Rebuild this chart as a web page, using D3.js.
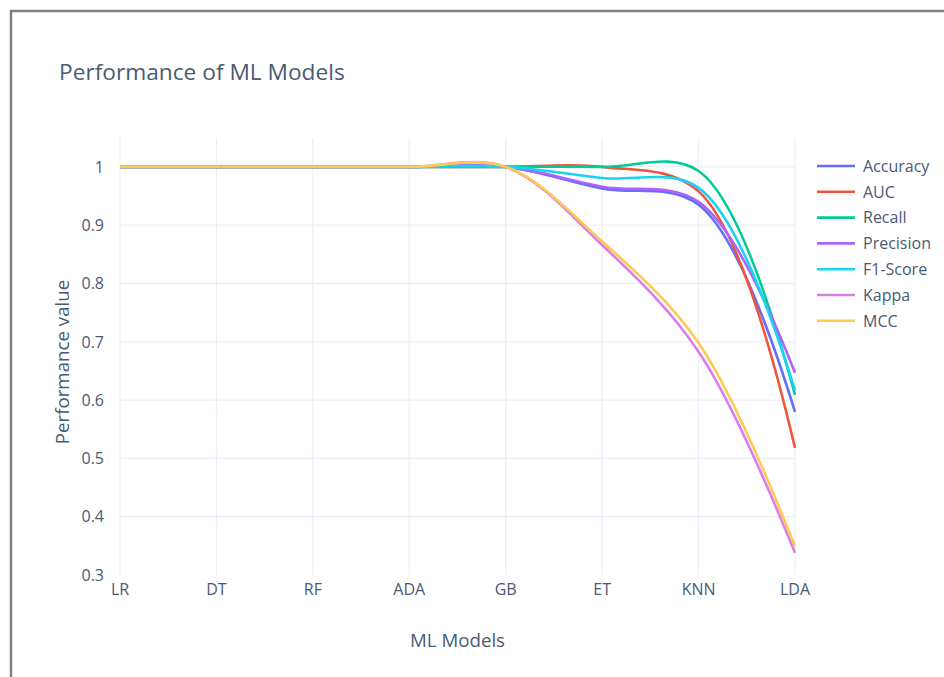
<!DOCTYPE html>
<html>
<head>
<meta charset="utf-8">
<script src="https://cdn.jsdelivr.net/npm/d3@7"></script>
<style>
  html, body { margin: 0; padding: 0; background: #fff; }
  svg { display: block; font-family: "Open Sans", "Noto Sans", sans-serif; }
</style>
</head>
<body>
<svg id="chart" width="944" height="677"></svg>
<script>
// ---- data ----
const categories = ["LR", "DT", "RF", "ADA", "GB", "ET", "KNN", "LDA"];
const seriesNames = ["Accuracy", "AUC", "Recall", "Precision", "F1-Score", "Kappa", "MCC"];
const accuracy  = [1, 1, 1, 1, 1, 0.963, 0.935, 0.580];
const auc       = [1, 1, 1, 1, 1, 1.000, 0.958, 0.518];
const recall    = [1, 1, 1, 1, 1, 1.000, 0.993, 0.609];
const precision = [1, 1, 1, 1, 1, 0.966, 0.940, 0.647];
const f1score   = [1, 1, 1, 1, 1, 0.981, 0.964, 0.617];
const kappa     = [1, 1, 1, 1, 1, 0.866, 0.683, 0.338];
const mcc       = [1, 1, 1, 1, 1, 0.872, 0.698, 0.349];
const yTicks = [0.3, 0.4, 0.5, 0.6, 0.7, 0.8, 0.9, 1];
const yTickLabels = ["0.3", "0.4", "0.5", "0.6", "0.7", "0.8", "0.9", "1"];
const colors = ["#636efa", "#EF553B", "#00cc96", "#ab63fa", "#19d3f3", "#dc7ee9", "#FECB52"];
const seriesValues = [accuracy, auc, recall, precision, f1score, kappa, mcc];

// ---- layout ----
const svg = d3.select("#chart");
const plot = { left: 120, right: 795, top: 138, bottom: 575 };
const fontColor = "#4a5a75";

const x = d3.scalePoint().domain(categories).range([plot.left, plot.right]).padding(0);
const y = d3.scaleLinear().domain([0.3, 1.05]).range([plot.bottom, plot.bottom - 0.75 * 583]);

// frame
svg.append("line").attr("x1", 11).attr("x2", 11).attr("y1", 10).attr("y2", 677)
  .attr("stroke", "#808080").attr("stroke-width", 2.5);
svg.append("line").attr("x1", 10).attr("x2", 944).attr("y1", 11).attr("y2", 11)
  .attr("stroke", "#808080").attr("stroke-width", 2.5);

// grid
const grid = svg.append("g");
grid.selectAll("line.h").data(yTicks.slice(1)).join("line")
  .attr("x1", plot.left).attr("x2", plot.right)
  .attr("y1", d => y(d)).attr("y2", d => y(d))
  .attr("stroke", "#EBF0F8").attr("stroke-width", 1.3);
grid.selectAll("line.v").data(categories).join("line")
  .attr("x1", d => x(d)).attr("x2", d => x(d))
  .attr("y1", plot.top).attr("y2", plot.bottom)
  .attr("stroke", "#EBF0F8").attr("stroke-width", 1.3);

// y tick labels
svg.append("g").selectAll("text").data(yTicks).join("text")
  .attr("x", 104).attr("y", d => y(d)).attr("dy", "0.36em")
  .attr("text-anchor", "end").attr("font-size", 16).attr("fill", fontColor)
  .text((d, i) => yTickLabels[i]);

// x tick labels
svg.append("g").selectAll("text").data(categories).join("text")
  .attr("x", d => x(d)).attr("y", 595)
  .attr("text-anchor", "middle").attr("font-size", 16).attr("fill", fontColor)
  .text(d => d);

// axis titles
svg.append("text").attr("x", (plot.left + plot.right) / 2).attr("y", 647)
  .attr("text-anchor", "middle").attr("font-size", 18.7).attr("fill", fontColor)
  .text("ML Models");
svg.append("text").attr("transform", "translate(69,362) rotate(-90)")
  .attr("text-anchor", "middle").attr("font-size", 18.7).attr("fill", fontColor)
  .text("Performance value");

// title
svg.append("text").attr("x", 59).attr("y", 80)
  .attr("font-size", 22.7).attr("fill", fontColor)
  .text("Performance of ML Models");

// Plotly-style spline
function makeTangent(p0, p1, p2, s) {
  const d1x = p0[0] - p1[0], d1y = p0[1] - p1[1];
  const d2x = p2[0] - p1[0], d2y = p2[1] - p1[1];
  const d1a = Math.pow(d1x * d1x + d1y * d1y, 0.25);
  const d2a = Math.pow(d2x * d2x + d2y * d2y, 0.25);
  const numx = (d2a * d2a * d1x - d1a * d1a * d2x) * s;
  const numy = (d2a * d2a * d1y - d1a * d1a * d2y) * s;
  const den1 = 3 * d2a * (d1a + d2a);
  const den2 = 3 * d1a * (d1a + d2a);
  return [
    [p1[0] + (den1 && numx / den1), p1[1] + (den1 && numy / den1)],
    [p1[0] - (den2 && numx / den2), p1[1] - (den2 && numy / den2)]
  ];
}
function splinePath(pts) {
  const p = d3.path();
  p.moveTo(pts[0][0], pts[0][1]);
  const t = [];
  for (let i = 1; i < pts.length - 1; i++) t.push(makeTangent(pts[i - 1], pts[i], pts[i + 1], 1));
  p.quadraticCurveTo(t[0][0][0], t[0][0][1], pts[1][0], pts[1][1]);
  for (let i = 2; i < pts.length - 1; i++) {
    p.bezierCurveTo(t[i - 2][1][0], t[i - 2][1][1], t[i - 1][0][0], t[i - 1][0][1], pts[i][0], pts[i][1]);
  }
  const l = t[pts.length - 3][1];
  p.quadraticCurveTo(l[0], l[1], pts[pts.length - 1][0], pts[pts.length - 1][1]);
  return p.toString();
}

// lines
const lines = svg.append("g");
seriesValues.forEach((vals, i) => {
  const pts = vals.map((v, j) => [x(categories[j]), y(v)]);
  lines.append("path").attr("d", splinePath(pts))
    .attr("fill", "none").attr("stroke", colors[i]).attr("stroke-width", 2.6)
    .attr("stroke-linejoin", "round");
});

// legend
const legend = svg.append("g");
seriesNames.forEach((name, i) => {
  const cy = 166 + i * 25.8;
  legend.append("line").attr("x1", 817).attr("x2", 855).attr("y1", cy).attr("y2", cy)
    .attr("stroke", colors[i]).attr("stroke-width", 2.6);
  legend.append("text").attr("x", 863).attr("y", cy).attr("dy", "0.36em")
    .attr("font-size", 16).attr("fill", fontColor).text(name);
});
</script>
</body>
</html>
